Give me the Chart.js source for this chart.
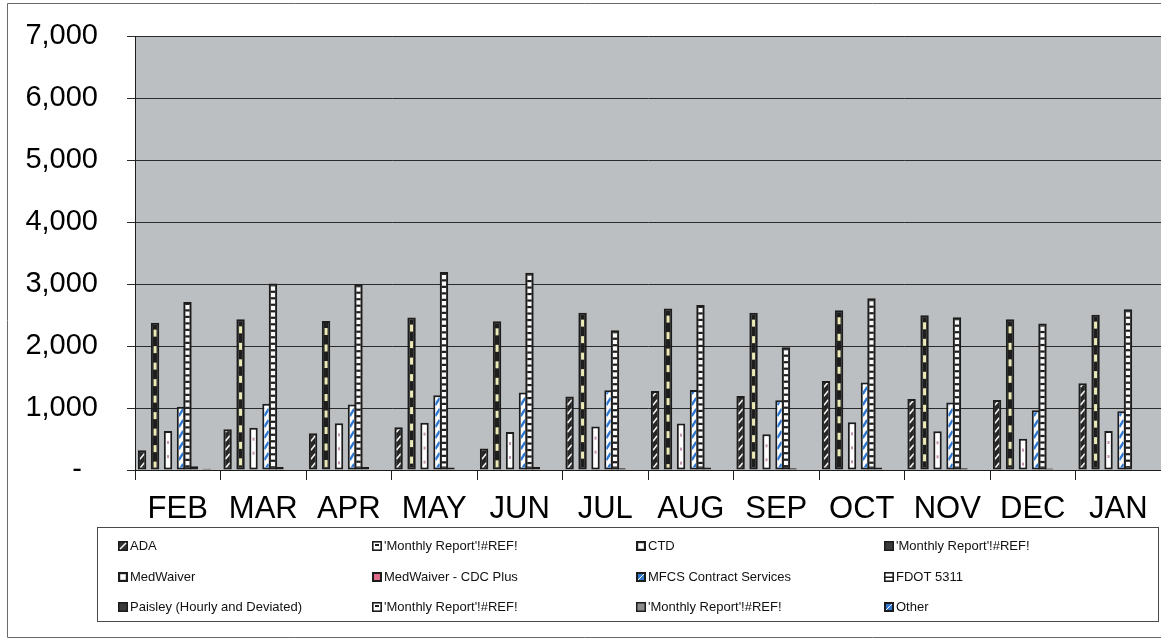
<!DOCTYPE html>
<html>
<head>
<meta charset="utf-8">
<title>Monthly trips by funding source</title>
<script src="https://cdn.jsdelivr.net/npm/chart.js@4.4.0/dist/chart.umd.min.js"></script>
<style>
  html, body { margin: 0; padding: 0; background: #fff; }
  #wrap { width: 1161px; height: 641px; }
</style>
</head>
<body>
<div id="wrap"><canvas id="tripsChart" width="1161" height="641"></canvas></div>
<script>
'use strict';

// ---- Data ----
const MONTHS = ['FEB', 'MAR', 'APR', 'MAY', 'JUN', 'JUL', 'AUG', 'SEP', 'OCT', 'NOV', 'DEC', 'JAN'];

const SERIES_NAMES = [
  'ADA', "'Monthly Report'!#REF!", 'CTD', "'Monthly Report'!#REF!",
  'MedWaiver', 'MedWaiver - CDC Plus', 'MFCS Contract Services', 'FDOT 5311',
  'Paisley (Hourly and Deviated)', "'Monthly Report'!#REF!", "'Monthly Report'!#REF!", 'Other'
];

const ADA       = [320, 656, 592, 689, 345, 1184, 1274, 1194, 1435, 1145, 1129, 1398];
const REF_1     = [0, 0, 0, 0, 0, 0, 0, 0, 0, 0, 0, 0];
const CTD       = [2377, 2430, 2403, 2458, 2398, 2538, 2603, 2538, 2576, 2495, 2430, 2506];
const REF_2     = [0, 0, 0, 0, 0, 0, 0, 0, 0, 0, 0, 0];
const MEDWAIVER = [629, 683, 753, 764, 613, 700, 748, 576, 769, 624, 506, 629];
const CDC_PLUS  = [0, 0, 0, 0, 0, 0, 0, 0, 0, 0, 0, 0];
const MFCS      = [1022, 1070, 1055, 1205, 1248, 1285, 1290, 1124, 1410, 1087, 963, 947];
const FDOT_5311 = [2710, 3010, 2995, 3194, 3183, 2253, 2661, 1979, 2769, 2463, 2361, 2592];
const PAISLEY   = [60, 50, 50, 40, 50, 30, 40, 30, 40, 30, 25, 10];
const REF_3     = [0, 0, 0, 0, 0, 0, 0, 0, 0, 0, 0, 0];
const REF_4     = [20, 0, 0, 0, 0, 0, 0, 0, 0, 0, 0, 0];
const OTHER     = [0, 0, 0, 0, 0, 0, 0, 0, 0, 0, 0, 0];

const SERIES_VALUES = [ADA, REF_1, CTD, REF_2, MEDWAIVER, CDC_PLUS, MFCS, FDOT_5311, PAISLEY, REF_3, REF_4, OTHER];

const Y_MAX = 7000;
const Y_STEP = 1000;

// ---- Look ----
const FONT = "'Liberation Sans', Arial, sans-serif";
const EDGE = '#1c1c1c';
const PLOT_BG = '#bcbfc2';

// fill colour + decoration drawn inside each bar, one per series
const SERIES_STYLE = [
  { fill: '#262626', pattern: 'slashWhite', icon: 'slash' },
  { fill: '#ffffff', pattern: null,         icon: 'white' },
  { fill: '#1e1e1e', pattern: 'yellowDash', icon: 'whiteThick' },
  { fill: '#2a2a2a', pattern: null,         icon: 'dark' },
  { fill: '#ffffff', pattern: 'pinkDash',   icon: 'whiteThick' },
  { fill: '#f0d0dc', pattern: null,         icon: 'pink' },
  { fill: '#ffffff', pattern: 'blueSlash',  icon: 'blue' },
  { fill: '#1e1e1e', pattern: 'checker',    icon: 'checker' },
  { fill: '#333333', pattern: null,         icon: 'dark' },
  { fill: '#ffffff', pattern: null,         icon: 'white' },
  { fill: '#8a8a8a', pattern: null,         icon: 'grey' },
  { fill: '#3a7fd0', pattern: null,         icon: 'blue' },
];

function drawPattern(ctx, kind, l, t, r, b) {
  const w = r - l;
  if (kind === 'slashWhite') {
    ctx.strokeStyle = '#f4f4f4';
    ctx.lineWidth = 1.6;
    for (let yy = b - 2; yy > t - w; yy -= 9) {
      ctx.beginPath(); ctx.moveTo(l, yy + w * 0.6); ctx.lineTo(r, yy - w * 0.6); ctx.stroke();
    }
  } else if (kind === 'yellowDash') {
    ctx.fillStyle = '#ecebb8';
    const dw = Math.min(3, w);
    for (let yy = t + 5; yy < b - 3; yy += 16.5) {
      ctx.fillRect(l + (w - dw) / 2, yy, dw, 7);
    }
  } else if (kind === 'pinkDash') {
    ctx.fillStyle = '#c294b0';
    for (let yy = t + 8; yy < b - 3; yy += 14) {
      ctx.fillRect(l + w / 2 - 1, yy, 2, 3);
    }
  } else if (kind === 'blueSlash') {
    ctx.strokeStyle = '#2f78d2';
    ctx.lineWidth = 2.4;
    for (let yy = b; yy > t - w; yy -= 11) {
      ctx.beginPath(); ctx.moveTo(l, yy + w * 0.8); ctx.lineTo(r, yy - w * 0.8); ctx.stroke();
    }
  } else if (kind === 'checker') {
    ctx.fillStyle = '#fafafa';
    for (let yy = t + 1; yy < b - 1; yy += 6.5) {
      ctx.fillRect(l, yy, w, Math.min(4.3, b - 1 - yy));
    }
  }
}

function drawIcon(ctx, kind, x, y) {
  const s = 10;
  ctx.save();
  ctx.fillStyle = EDGE;
  ctx.fillRect(x, y, s, s);
  const inner = (c, inset) => { ctx.fillStyle = c; ctx.fillRect(x + inset, y + inset, s - 2 * inset, s - 2 * inset); };
  if (kind === 'slash') {
    inner('#333', 1.5);
    ctx.strokeStyle = '#fff'; ctx.lineWidth = 1.5;
    ctx.beginPath(); ctx.moveTo(x + 2, y + 8); ctx.lineTo(x + 8, y + 2); ctx.stroke();
  } else if (kind === 'white') {
    inner('#fff', 1.6);
    ctx.fillStyle = EDGE; ctx.fillRect(x + 3, y + 3, 4, 2);
  } else if (kind === 'whiteThick') {
    inner('#fff', 2.2);
  } else if (kind === 'dark') {
    inner('#3a3a3a', 1.5);
  } else if (kind === 'pink') {
    inner('#e06a8a', 2);
  } else if (kind === 'blue') {
    inner('#2f78d2', 2);
    ctx.strokeStyle = '#fff'; ctx.lineWidth = 1;
    ctx.beginPath(); ctx.moveTo(x + 2, y + 8); ctx.lineTo(x + 8, y + 2); ctx.stroke();
  } else if (kind === 'checker') {
    inner('#fff', 1.6);
    ctx.fillStyle = EDGE; ctx.fillRect(x + 1, y + 4.5, s - 2, 1.5);
  } else if (kind === 'grey') {
    inner('#8c8c8c', 1.5);
  }
  ctx.restore();
}

// ---- Plugins ----
const plotBackground = {
  id: 'plotBackground',
  beforeDraw(chart) {
    const { ctx, chartArea: a } = chart;
    ctx.save();
    ctx.fillStyle = '#fff';
    ctx.fillRect(0, 0, chart.width, chart.height);
    ctx.fillStyle = PLOT_BG;
    ctx.fillRect(a.left, a.top, a.right - a.left, a.bottom - a.top);
    ctx.restore();
  }
};

const barPatterns = {
  id: 'barPatterns',
  afterDatasetDraw(chart, args) {
    const style = SERIES_STYLE[args.index];
    if (!style || !style.pattern) return;
    const ctx = chart.ctx;
    const bw = chart.data.datasets[args.index].borderWidth;
    args.meta.data.forEach(bar => {
      const { x, y, base, width } = bar.getProps(['x', 'y', 'base', 'width'], true);
      const l = x - width / 2 + bw, r = x + width / 2 - bw;
      const t = Math.min(y, base) + bw, b = Math.max(y, base) - bw;
      if (b - t < 2 || r - l < 1) return;
      ctx.save();
      ctx.beginPath(); ctx.rect(l, t, r - l, b - t); ctx.clip();
      drawPattern(ctx, style.pattern, l, t, r, b);
      ctx.restore();
    });
  }
};

const boxedLegend = {
  id: 'boxedLegend',
  afterDraw(chart) {
    const ctx = chart.ctx;
    ctx.save();
    // outer frame of the whole chart
    ctx.strokeStyle = '#6a6a6a';
    ctx.lineWidth = 1;
    ctx.beginPath();
    ctx.moveTo(1161, 3.5); ctx.lineTo(7.5, 3.5); ctx.lineTo(7.5, 637.5); ctx.lineTo(1161, 637.5);
    ctx.stroke();

    // legend box
    ctx.strokeStyle = '#4a4a4a';
    ctx.strokeRect(97.5, 527.5, 1061, 94);

    const cols = [118, 372, 636, 884];
    const rows = [546, 577, 607];
    ctx.font = '13px ' + FONT;
    ctx.textBaseline = 'middle';
    chart.data.datasets.forEach((ds, i) => {
      const cx = cols[i % 4], cy = rows[Math.floor(i / 4)];
      drawIcon(ctx, SERIES_STYLE[i].icon, cx, cy - 5);
      ctx.fillStyle = '#111';
      ctx.fillText(ds.label, cx + 12, cy);
    });
    ctx.restore();
  }
};

// ---- Chart ----
const datasets = SERIES_NAMES.map((name, i) => ({
  label: name,
  data: SERIES_VALUES[i],
  backgroundColor: SERIES_STYLE[i].fill,
  borderColor: EDGE,
  borderWidth: 2,
  borderSkipped: false,
  inflateAmount: 0,
  categoryPercentage: 0.91,
  barPercentage: 1.3,
}));

new Chart(document.getElementById('tripsChart'), {
  type: 'bar',
  data: { labels: MONTHS, datasets },
  options: {
    responsive: false,
    animation: false,
    layout: { padding: { top: 36, left: 0, right: 0, bottom: 121 } },
    plugins: {
      legend: { display: false },
      tooltip: { enabled: false },
    },
    scales: {
      x: {
        afterFit(scale) { scale.height = 50; },
        grid: { offset: true, drawOnChartArea: false, drawTicks: true, tickLength: 10, color: EDGE },
        border: { display: true, color: EDGE, width: 1 },
        ticks: { color: '#000', padding: 11, font: { family: FONT, size: 31 }, maxRotation: 0, autoSkip: false },
      },
      y: {
        min: 0,
        max: Y_MAX,
        afterFit(scale) {
          scale.width = 135;
          // the wide label padding would otherwise push the plot top down
          scale.paddingTop = 0;
          scale.paddingBottom = 0;
        },
        grid: { color: '#2a2a2a', tickLength: 8, drawTicks: true },
        border: { display: true, color: EDGE, width: 1 },
        ticks: {
          stepSize: Y_STEP,
          color: '#000',
          padding: 29,
          font: { family: FONT, size: 29 },
          callback: v => (v === 0 ? '-  ' : v.toLocaleString('en-US')),
        },
      },
    },
  },
  plugins: [plotBackground, barPatterns, boxedLegend],
});
</script>
</body>
</html>
